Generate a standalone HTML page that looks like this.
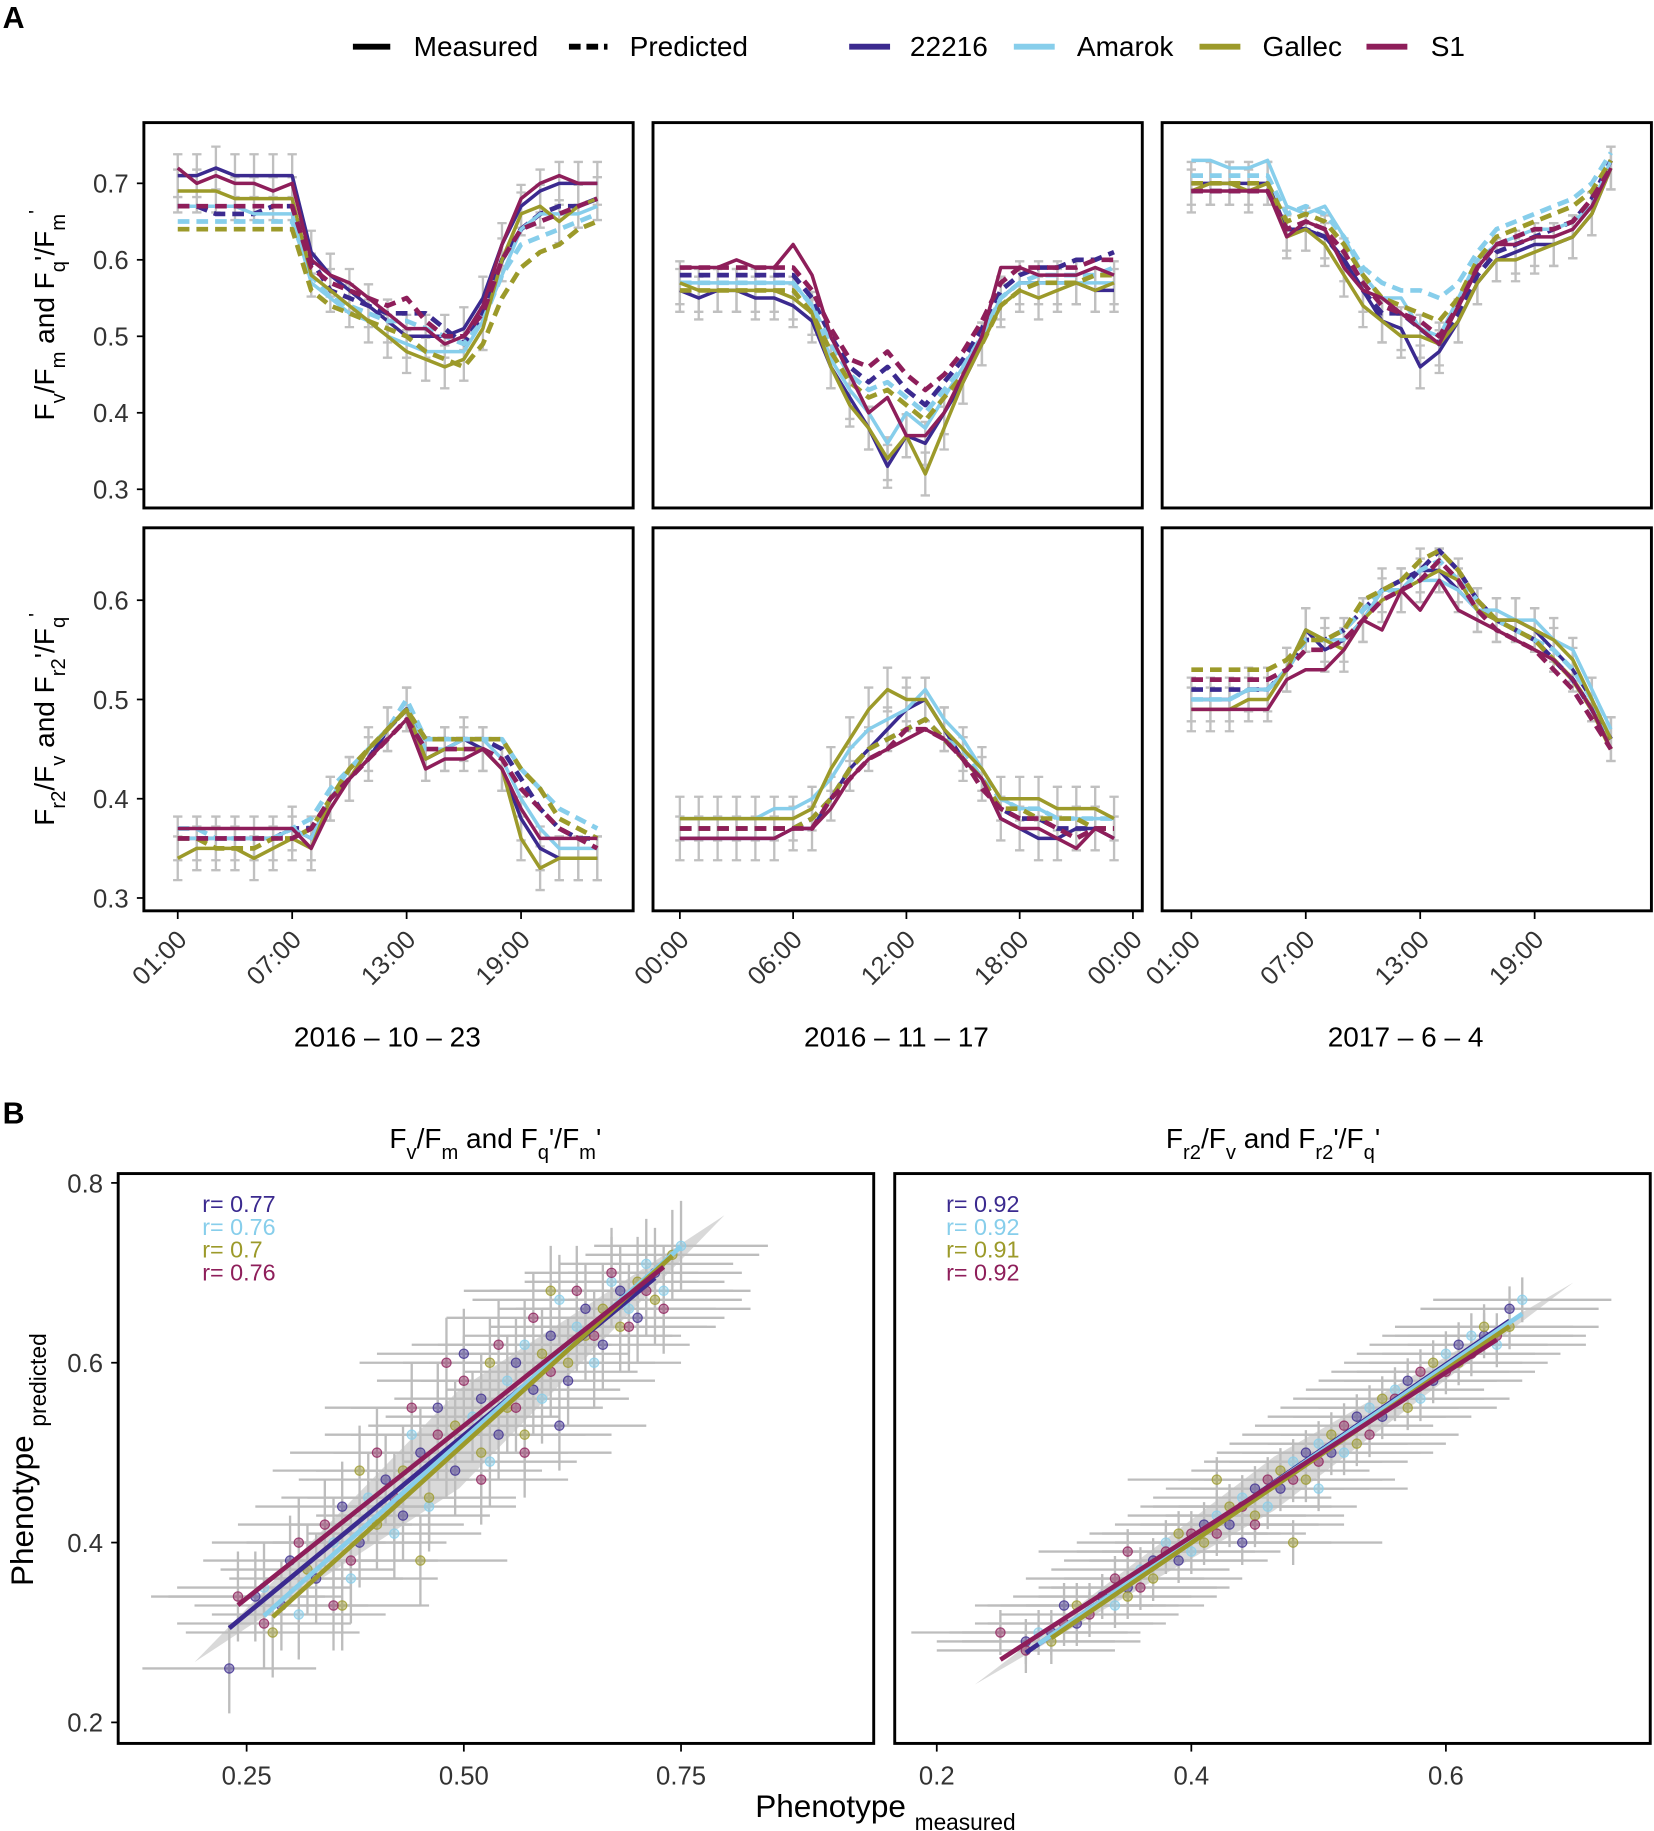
<!DOCTYPE html>
<html><head><meta charset="utf-8">
<style>
html,body{margin:0;padding:0;background:#fff;}
svg{display:block;font-family:"Liberation Sans",sans-serif;}
</style></head>
<body>
<svg id="fig" width="1654" height="1831" viewBox="0 0 1416 1568" xmlns="http://www.w3.org/2000/svg">
<rect x="0" y="0" width="1416" height="1568" fill="#fff"/>
<text x="2" y="24" font-size="26" font-weight="bold">A</text>
<text x="2" y="962" font-size="26" font-weight="bold">B</text>
<g font-size="24">
 <g><line x1="302" y1="40" x2="334" y2="40" stroke="#000" stroke-width="5"/><text x="354" y="48">Measured</text></g>
 <g><line x1="487" y1="40" x2="520" y2="40" stroke="#000" stroke-width="5" stroke-dasharray="10,5"/><text x="539" y="48">Predicted</text></g>
 <g><line x1="727" y1="40" x2="762" y2="40" stroke="#3b2a8f" stroke-width="5"/><text x="779" y="48">22216</text></g>
 <g><line x1="868" y1="40" x2="903" y2="40" stroke="#87ceeb" stroke-width="5"/><text x="922" y="48">Amarok</text></g>
 <g><line x1="1027" y1="40" x2="1062" y2="40" stroke="#9c9a2a" stroke-width="5"/><text x="1081" y="48">Gallec</text></g>
 <g><line x1="1170" y1="40" x2="1205" y2="40" stroke="#8e1e5a" stroke-width="5"/><text x="1225" y="48">S1</text></g>
</g>
<g id="plots"></g>
</svg>
<script>
// ---------- Panel A data ----------
const genotypes = ["22216","Amarok","Gallec","S1"];
const colors = ["#3b2a8f","#87ceeb","#9c9a2a","#8e1e5a"];
const hoursA1 = [1,2,3,4,5,6,7,8,9,10,11,12,13,14,15,16,17,18,19,20,21,22,23];
const hoursA2 = [0,1,2,3,4,5,6,7,8,9,10,11,12,13,14,15,16,17,18,19,20,21,22,23];
const hoursA3 = [1,2,3,4,5,6,7,8,9,10,11,12,13,14,15,16,17,18,19,20,21,22,23];
const ticksTop = [0.3,0.4,0.5,0.6,0.7];
const ticksBot = [0.3,0.4,0.5,0.6];
const xTicks1 = [1,7,13,19]; const xLab1 = ["01:00","07:00","13:00","19:00"];
const xTicks2 = [0,6,12,18,24]; const xLab2 = ["00:00","06:00","12:00","18:00","00:00"];
const xTicks3 = [1,7,13,19]; const xLab3 = ["01:00","07:00","13:00","19:00"];
const dates = ["2016 – 10 – 23","2016 – 11 – 17","2017 – 6 – 4"];

const t1Meas = [
[0.71,0.71,0.72,0.71,0.71,0.71,0.71,0.61,0.58,0.56,0.54,0.52,0.50,0.50,0.50,0.51,0.55,0.62,0.67,0.69,0.70,0.70,0.70],
[0.67,0.67,0.67,0.67,0.66,0.66,0.66,0.57,0.55,0.53,0.52,0.50,0.49,0.48,0.48,0.48,0.52,0.58,0.64,0.66,0.66,0.66,0.67],
[0.69,0.69,0.69,0.68,0.68,0.68,0.68,0.58,0.56,0.54,0.52,0.50,0.48,0.47,0.46,0.47,0.51,0.60,0.66,0.67,0.65,0.67,0.68],
[0.72,0.70,0.71,0.70,0.70,0.69,0.70,0.60,0.58,0.57,0.55,0.53,0.51,0.51,0.49,0.50,0.54,0.62,0.68,0.70,0.71,0.70,0.70]];
const t1Pred = [
[0.67,0.67,0.66,0.66,0.66,0.67,0.67,0.60,0.56,0.55,0.54,0.53,0.53,0.53,0.51,0.49,0.53,0.60,0.64,0.66,0.67,0.67,0.68],
[0.65,0.65,0.65,0.65,0.65,0.65,0.65,0.58,0.55,0.54,0.53,0.52,0.52,0.51,0.50,0.49,0.52,0.58,0.62,0.63,0.64,0.65,0.66],
[0.64,0.64,0.64,0.64,0.64,0.64,0.64,0.56,0.54,0.53,0.52,0.51,0.50,0.48,0.47,0.46,0.49,0.55,0.59,0.61,0.62,0.64,0.65],
[0.67,0.67,0.67,0.67,0.67,0.67,0.67,0.59,0.57,0.56,0.55,0.54,0.55,0.52,0.50,0.50,0.53,0.60,0.64,0.65,0.66,0.67,0.68]];
const t2Meas = [
[0.56,0.55,0.56,0.56,0.55,0.55,0.54,0.52,0.46,0.42,0.38,0.33,0.37,0.36,0.40,0.44,0.49,0.55,0.57,0.57,0.57,0.57,0.56,0.56],
[0.57,0.57,0.57,0.57,0.57,0.57,0.57,0.54,0.47,0.43,0.40,0.36,0.40,0.38,0.42,0.46,0.50,0.55,0.57,0.57,0.57,0.57,0.57,0.57],
[0.57,0.56,0.56,0.56,0.56,0.56,0.55,0.53,0.46,0.41,0.38,0.34,0.37,0.32,0.38,0.44,0.49,0.54,0.56,0.55,0.56,0.57,0.56,0.57],
[0.59,0.59,0.59,0.60,0.59,0.59,0.62,0.58,0.50,0.45,0.40,0.42,0.37,0.37,0.40,0.45,0.50,0.59,0.59,0.58,0.58,0.58,0.59,0.58]];
const t2Pred = [
[0.58,0.58,0.58,0.58,0.58,0.58,0.58,0.55,0.50,0.46,0.44,0.46,0.43,0.41,0.44,0.47,0.51,0.56,0.58,0.59,0.59,0.60,0.60,0.61],
[0.57,0.57,0.57,0.57,0.57,0.57,0.57,0.54,0.49,0.45,0.43,0.44,0.42,0.40,0.43,0.46,0.50,0.55,0.57,0.58,0.58,0.58,0.58,0.59],
[0.56,0.56,0.56,0.56,0.56,0.56,0.56,0.53,0.48,0.44,0.42,0.43,0.41,0.39,0.42,0.45,0.49,0.54,0.56,0.57,0.57,0.57,0.58,0.58],
[0.59,0.59,0.59,0.59,0.59,0.59,0.59,0.56,0.51,0.47,0.46,0.48,0.45,0.43,0.45,0.48,0.52,0.57,0.59,0.59,0.59,0.59,0.60,0.60]];
const t3Meas = [
[0.70,0.70,0.70,0.70,0.70,0.64,0.64,0.63,0.60,0.56,0.52,0.51,0.46,0.48,0.52,0.57,0.60,0.61,0.62,0.62,0.63,0.66,0.72],
[0.73,0.73,0.72,0.72,0.73,0.67,0.66,0.67,0.63,0.58,0.55,0.55,0.51,0.50,0.55,0.60,0.62,0.63,0.64,0.64,0.65,0.67,0.73],
[0.69,0.70,0.70,0.69,0.70,0.63,0.64,0.62,0.58,0.54,0.52,0.50,0.50,0.49,0.52,0.57,0.60,0.60,0.61,0.62,0.63,0.66,0.72],
[0.69,0.69,0.69,0.69,0.69,0.63,0.65,0.64,0.59,0.56,0.55,0.53,0.51,0.49,0.54,0.59,0.62,0.62,0.63,0.63,0.64,0.67,0.72]];
const t3Pred = [
[0.69,0.69,0.69,0.69,0.69,0.64,0.64,0.63,0.60,0.56,0.53,0.53,0.51,0.49,0.53,0.58,0.61,0.62,0.63,0.64,0.65,0.68,0.73],
[0.71,0.71,0.71,0.71,0.71,0.66,0.67,0.66,0.63,0.59,0.57,0.56,0.56,0.55,0.57,0.61,0.64,0.65,0.66,0.67,0.68,0.70,0.74],
[0.70,0.70,0.70,0.70,0.70,0.65,0.66,0.65,0.62,0.58,0.55,0.54,0.53,0.52,0.55,0.60,0.63,0.64,0.65,0.66,0.67,0.69,0.73],
[0.69,0.69,0.69,0.69,0.69,0.64,0.65,0.64,0.61,0.57,0.54,0.53,0.52,0.50,0.54,0.59,0.62,0.63,0.64,0.64,0.65,0.68,0.72]];
const b1Meas = [
[0.36,0.36,0.36,0.36,0.36,0.36,0.37,0.36,0.40,0.42,0.44,0.47,0.49,0.44,0.45,0.46,0.45,0.43,0.38,0.35,0.34,0.34,0.34],
[0.36,0.36,0.36,0.36,0.36,0.36,0.37,0.36,0.40,0.43,0.45,0.47,0.49,0.45,0.45,0.46,0.46,0.44,0.40,0.37,0.35,0.35,0.35],
[0.34,0.35,0.35,0.35,0.34,0.35,0.36,0.35,0.40,0.42,0.45,0.47,0.49,0.44,0.45,0.45,0.45,0.43,0.36,0.33,0.34,0.34,0.34],
[0.37,0.37,0.37,0.37,0.37,0.37,0.37,0.35,0.39,0.42,0.44,0.46,0.48,0.43,0.44,0.44,0.45,0.43,0.39,0.36,0.36,0.36,0.36]];
const b1Pred = [
[0.36,0.36,0.36,0.36,0.36,0.36,0.37,0.37,0.40,0.42,0.44,0.47,0.49,0.46,0.46,0.46,0.46,0.45,0.42,0.39,0.37,0.36,0.36],
[0.37,0.37,0.36,0.36,0.36,0.36,0.37,0.38,0.41,0.43,0.45,0.47,0.50,0.46,0.46,0.46,0.46,0.46,0.43,0.41,0.39,0.38,0.37],
[0.36,0.36,0.35,0.35,0.35,0.36,0.36,0.37,0.40,0.43,0.45,0.47,0.49,0.46,0.46,0.46,0.46,0.46,0.43,0.41,0.38,0.37,0.36],
[0.36,0.36,0.36,0.36,0.36,0.36,0.36,0.37,0.40,0.42,0.44,0.46,0.48,0.45,0.45,0.45,0.45,0.44,0.41,0.39,0.37,0.36,0.35]];
const b2Meas = [
[0.36,0.36,0.36,0.36,0.36,0.36,0.37,0.37,0.40,0.43,0.45,0.47,0.49,0.50,0.47,0.44,0.42,0.38,0.37,0.36,0.36,0.37,0.37,0.36],
[0.38,0.38,0.38,0.38,0.38,0.39,0.39,0.40,0.42,0.45,0.47,0.48,0.49,0.51,0.48,0.46,0.43,0.40,0.39,0.39,0.38,0.38,0.38,0.38],
[0.38,0.38,0.38,0.38,0.38,0.38,0.38,0.39,0.43,0.46,0.49,0.51,0.50,0.50,0.47,0.45,0.43,0.40,0.40,0.40,0.39,0.39,0.39,0.38],
[0.36,0.36,0.36,0.36,0.36,0.36,0.37,0.37,0.39,0.42,0.44,0.45,0.46,0.47,0.46,0.44,0.42,0.38,0.37,0.37,0.36,0.35,0.37,0.36]];
const b2Pred = [
[0.37,0.37,0.37,0.37,0.37,0.37,0.37,0.38,0.40,0.43,0.45,0.46,0.47,0.48,0.46,0.44,0.42,0.39,0.38,0.38,0.37,0.37,0.37,0.37],
[0.37,0.37,0.37,0.37,0.37,0.37,0.37,0.38,0.40,0.43,0.45,0.46,0.47,0.48,0.46,0.45,0.42,0.40,0.39,0.39,0.38,0.38,0.38,0.38],
[0.37,0.37,0.37,0.37,0.37,0.37,0.37,0.38,0.40,0.43,0.45,0.46,0.47,0.48,0.46,0.44,0.42,0.39,0.39,0.38,0.38,0.38,0.37,0.37],
[0.37,0.37,0.37,0.37,0.37,0.37,0.37,0.37,0.40,0.42,0.44,0.45,0.47,0.47,0.46,0.44,0.41,0.39,0.38,0.38,0.37,0.36,0.37,0.37]];
const b3Meas = [
[0.50,0.50,0.50,0.51,0.51,0.53,0.57,0.55,0.56,0.58,0.61,0.61,0.63,0.63,0.61,0.59,0.58,0.58,0.57,0.55,0.53,0.50,0.46],
[0.50,0.50,0.50,0.51,0.51,0.53,0.57,0.56,0.56,0.58,0.61,0.61,0.62,0.62,0.61,0.59,0.59,0.58,0.58,0.56,0.55,0.51,0.47],
[0.49,0.49,0.49,0.50,0.50,0.53,0.57,0.56,0.55,0.58,0.60,0.61,0.62,0.63,0.62,0.59,0.58,0.58,0.57,0.56,0.54,0.50,0.46],
[0.49,0.49,0.49,0.49,0.49,0.52,0.53,0.53,0.55,0.58,0.57,0.61,0.59,0.62,0.59,0.58,0.57,0.56,0.55,0.54,0.52,0.49,0.45]];
const b3Pred = [
[0.51,0.51,0.51,0.51,0.51,0.53,0.56,0.56,0.57,0.59,0.61,0.62,0.63,0.65,0.63,0.60,0.58,0.57,0.56,0.54,0.52,0.49,0.46],
[0.50,0.50,0.50,0.51,0.51,0.53,0.56,0.56,0.57,0.59,0.61,0.61,0.63,0.64,0.62,0.60,0.58,0.57,0.56,0.55,0.53,0.50,0.46],
[0.53,0.53,0.53,0.53,0.53,0.54,0.56,0.56,0.57,0.60,0.61,0.62,0.64,0.65,0.63,0.60,0.58,0.57,0.56,0.54,0.52,0.49,0.45],
[0.52,0.52,0.52,0.52,0.52,0.53,0.55,0.55,0.56,0.58,0.60,0.61,0.62,0.64,0.62,0.59,0.57,0.56,0.55,0.53,0.51,0.48,0.45]];

// ---------- Panel B data ----------
const rLeft = ["r= 0.77","r= 0.76","r= 0.7","r= 0.76"];
const rRight = ["r= 0.92","r= 0.92","r= 0.91","r= 0.92"];
const ticksBX1 = [0.25,0.50,0.75]; const ticksBX2 = [0.2,0.4,0.6]; const ticksBY = [0.2,0.4,0.6,0.8];
const sL = [
[[0.23,0.26],[0.26,0.34],[0.30,0.38],[0.33,0.36],[0.36,0.44],[0.38,0.40],[0.41,0.47],[0.43,0.43],[0.45,0.50],[0.47,0.55],[0.49,0.48],[0.52,0.56],[0.54,0.52],[0.56,0.60],[0.58,0.57],[0.60,0.63],[0.62,0.58],[0.64,0.66],[0.66,0.62],[0.68,0.68],[0.70,0.65],[0.72,0.70],[0.29,0.33],[0.50,0.61],[0.61,0.53]],
[[0.27,0.35],[0.31,0.32],[0.35,0.40],[0.39,0.45],[0.42,0.41],[0.44,0.52],[0.48,0.50],[0.51,0.54],[0.53,0.49],[0.55,0.58],[0.57,0.62],[0.59,0.56],[0.63,0.64],[0.65,0.60],[0.67,0.69],[0.69,0.66],[0.71,0.71],[0.73,0.68],[0.75,0.73],[0.46,0.44],[0.37,0.36],[0.61,0.67]],
[[0.28,0.30],[0.32,0.37],[0.36,0.33],[0.40,0.42],[0.43,0.48],[0.46,0.45],[0.49,0.53],[0.52,0.50],[0.55,0.55],[0.57,0.52],[0.59,0.61],[0.62,0.60],[0.64,0.63],[0.66,0.66],[0.68,0.64],[0.70,0.69],[0.72,0.67],[0.74,0.72],[0.60,0.68],[0.53,0.60],[0.45,0.38],[0.38,0.48]],
[[0.24,0.34],[0.27,0.31],[0.31,0.40],[0.34,0.42],[0.37,0.38],[0.40,0.50],[0.42,0.45],[0.44,0.55],[0.47,0.52],[0.50,0.58],[0.52,0.47],[0.54,0.62],[0.56,0.55],[0.58,0.65],[0.60,0.59],[0.63,0.68],[0.65,0.63],[0.67,0.70],[0.69,0.64],[0.71,0.68],[0.73,0.66],[0.48,0.60],[0.57,0.50],[0.35,0.33]]];
const sR = [
[[0.27,0.29],[0.29,0.30],[0.31,0.31],[0.33,0.34],[0.35,0.35],[0.37,0.38],[0.39,0.38],[0.41,0.42],[0.43,0.42],[0.45,0.46],[0.47,0.46],[0.49,0.50],[0.51,0.50],[0.53,0.54],[0.55,0.54],[0.57,0.58],[0.59,0.58],[0.61,0.62],[0.63,0.63],[0.65,0.66],[0.30,0.33],[0.44,0.40]],
[[0.28,0.30],[0.32,0.33],[0.34,0.33],[0.36,0.37],[0.38,0.40],[0.40,0.39],[0.42,0.43],[0.44,0.45],[0.46,0.44],[0.48,0.49],[0.50,0.51],[0.52,0.50],[0.54,0.55],[0.56,0.57],[0.58,0.56],[0.60,0.61],[0.62,0.63],[0.64,0.62],[0.66,0.67],[0.50,0.46]],
[[0.29,0.29],[0.31,0.33],[0.35,0.34],[0.37,0.36],[0.39,0.41],[0.41,0.40],[0.43,0.44],[0.45,0.43],[0.47,0.48],[0.49,0.47],[0.51,0.52],[0.53,0.51],[0.55,0.56],[0.57,0.55],[0.59,0.60],[0.61,0.60],[0.63,0.64],[0.65,0.64],[0.48,0.40],[0.42,0.47]],
[[0.25,0.30],[0.27,0.28],[0.30,0.31],[0.32,0.32],[0.34,0.36],[0.36,0.35],[0.38,0.39],[0.40,0.41],[0.42,0.41],[0.44,0.44],[0.46,0.47],[0.48,0.47],[0.50,0.49],[0.52,0.53],[0.54,0.52],[0.56,0.56],[0.58,0.59],[0.60,0.59],[0.62,0.61],[0.64,0.63],[0.35,0.39],[0.45,0.42]]];

// ---------- drawing ----------
const NS = "http://www.w3.org/2000/svg";
const root = document.getElementById("plots");
function mk(tag, attrs, parent){ const e=document.createElementNS(NS,tag); for(const k in attrs) e.setAttribute(k,attrs[k]); (parent||root).appendChild(e); return e; }
function lin(d0,d1,r0,r1){ return v => r0 + (v-d0)/(d1-d0)*(r1-r0); }

const colX = [[123,542],[559,978],[995,1414]];
const xScales = [lin(1,19,152,446), lin(0,24,582,970), lin(1,19,1020,1314)];
const hoursArr = [hoursA1,hoursA2,hoursA3];
const rowsA = [
 {y0:105,y1:435,ys:lin(0.3,0.7,419,157),ticks:ticksTop,meas:[t1Meas,t2Meas,t3Meas],pred:[t1Pred,t2Pred,t3Pred],err:0.028,name:"fvfm"},
 {y0:452,y1:780,ys:lin(0.3,0.6,769,514),ticks:ticksBot,meas:[b1Meas,b2Meas,b3Meas],pred:[b1Pred,b2Pred,b3Pred],err:0.022,name:"fr2fv"}];
const xTicksArr=[xTicks1,xTicks2,xTicks3], xLabArr=[xLab1,xLab2,xLab3];

rowsA.forEach((row,ri)=>{
 for(let c=0;c<3;c++){
  const g = mk("g",{});
  
  
  const xs = xScales[c], hrs = hoursArr[c];
  mk("clipPath",{id:"cp"+ri+c},g); mk("rect",{x:colX[c][0],y:row.y0,width:colX[c][1]-colX[c][0],height:row.y1-row.y0},g.lastChild);
  const inner = mk("g",{"clip-path":"url(#cp"+ri+c+")"},g);
  [0,2].forEach(gi=>{
   row.meas[c][gi].forEach((v,i)=>{
    const x=xs(hrs[i]);
    const eb = mk("path",{d:`M${x},${row.ys(v-row.err)}V${row.ys(v+row.err)}M${x-4},${row.ys(v-row.err)}h8M${x-4},${row.ys(v+row.err)}h8`,stroke:"#c0c0c0","stroke-width":2,fill:"none"},inner);
    
    
   });
  });
  for(let gi=0;gi<4;gi++){
   [["pred",true],["meas",false]].forEach(([k,dash])=>{
    const arr=row[k][c][gi];
    const d = arr.map((v,i)=>(i?"L":"M")+xs(hrs[i]).toFixed(1)+","+row.ys(v).toFixed(1)).join("");
    const p = mk("path",{d:d,fill:"none",stroke:colors[gi],"stroke-width":dash?4:3,"stroke-dasharray":dash?"10,6":"none","stroke-linejoin":"round"},inner);
    
    
   });
  }
  mk("rect",{x:colX[c][0],y:row.y0,width:colX[c][1]-colX[c][0],height:row.y1-row.y0,fill:"none",stroke:"#000","stroke-width":2.5},g);
  if(c===0){
   row.ticks.forEach(t=>{
    const y=row.ys(t);
    mk("line",{x1:117,x2:123,y1:y,y2:y,stroke:"#000","stroke-width":1.5},g);
    const tx=mk("text",{x:110,y:y+8,"text-anchor":"end","font-size":22,fill:"#333"},g); tx.textContent=t.toFixed(1);
    
    
   });
  }
  if(ri===1){
   xTicksArr[c].forEach((t,i)=>{
    const x=xs(t);
    mk("line",{x1:x,x2:x,y1:780,y2:787,stroke:"#000","stroke-width":1.5},g);
    const tx=mk("text",{x:x+9,y:806,"text-anchor":"end","font-size":22,fill:"#333",transform:`rotate(-45 ${x+9} 806)`},g); tx.textContent=xLabArr[c][i];
    
    
   });
   const dt=mk("text",{x:(colX[c][0]+colX[c][1])/2-1,y:896,"text-anchor":"middle","font-size":24},g); dt.textContent=dates[c];
   
   
  }
 }
});

function richText(parent,x,y,size,parts,rot,anchor){
 const t=mk("text",{x:x,y:y,"font-size":size,"text-anchor":anchor||"middle",transform:rot?`rotate(-90 ${x} ${y})`:""},parent);
 parts.forEach(p=>{ const s=mk("tspan",{},t); if(p[1]==="sub"){s.setAttribute("baseline-shift","sub");s.setAttribute("font-size",size*0.72);} else if(p[1]==="sup"){s.setAttribute("baseline-shift","super");s.setAttribute("font-size",size*0.72);} s.textContent=p[0]; });
 return t;
}
let t;
t=richText(root,46,270,24,[["F"],["v","sub"],["/F"],["m","sub"],[" and F"],["q","sub"],["'/F"],["m","sub"],["'","sup"]],true);


t=richText(root,46,616,24,[["F"],["r2","sub"],["/F"],["v","sub"],[" and F"],["r2","sub"],["'/F"],["q","sub"],["'","sup"]],true);



// ---------- Panel B ----------
const yB = lin(0.2,0.8,1475,1013);
const panelsB = [
 {x0:101,x1:748,xs:lin(0.25,0.75,211,583),data:sL,ex:0.1,ey:0.05,r:rLeft,rx:173,ticks:ticksBX1,tl:["0.25","0.50","0.75"],name:"left",band:0.055,range:[0.19,0.80]},
 {x0:766,x1:1413,xs:lin(0.2,0.6,802,1238),data:sR,ex:0.07,ey:0.025,r:rRight,rx:810,ticks:ticksBX2,tl:["0.2","0.4","0.6"],name:"right",band:0.03,range:[0.23,0.70]}];
panelsB.forEach((P,pi)=>{
 const g=mk("g",{});
 
 
 mk("clipPath",{id:"cb"+pi},g); mk("rect",{x:P.x0,y:1005,width:P.x1-P.x0,height:488},g.lastChild);
 const inner=mk("g",{"clip-path":"url(#cb"+pi+")"},g);
 const all=[].concat(...P.data);
 const mx=all.reduce((a,p)=>a+p[0],0)/all.length, my=all.reduce((a,p)=>a+p[1],0)/all.length;
 const sl=all.reduce((a,p)=>a+(p[0]-mx)*(p[1]-my),0)/all.reduce((a,p)=>a+(p[0]-mx)**2,0);
 const f=x=>my+sl*(x-mx);
 const [a,b]=P.range, m=(a+b)/2;
 const cl=mk("path",{d:`M${P.xs(a)},${yB(f(a))}L${P.xs(m)},${yB(f(m)-P.band)}L${P.xs(b)},${yB(f(b))}L${P.xs(m)},${yB(f(m)+P.band)}Z`,fill:"#cfcfcf",opacity:0.8,"stroke-linejoin":"round"},inner);
 
 
 P.data.forEach(ser=>ser.forEach(p=>{
  const x=P.xs(p[0]), y=yB(p[1]);
  const e=mk("path",{d:`M${P.xs(p[0]-P.ex)},${y}H${P.xs(p[0]+P.ex)}M${x},${yB(p[1]-P.ey)}V${yB(p[1]+P.ey)}`,stroke:"#bdbdbd","stroke-width":2},inner);
  
  
 }));
 P.data.forEach((ser,gi)=>ser.forEach(p=>{
  const c=mk("circle",{cx:P.xs(p[0]),cy:yB(p[1]),r:4,fill:colors[gi],"fill-opacity":0.45,stroke:colors[gi],"stroke-opacity":0.8,"stroke-width":1},inner);
  
  
 }));
 P.data.forEach((ser,gi)=>{
  const mx=ser.reduce((a,p)=>a+p[0],0)/ser.length, my=ser.reduce((a,p)=>a+p[1],0)/ser.length;
  const s=ser.reduce((a,p)=>a+(p[0]-mx)*(p[1]-my),0)/ser.reduce((a,p)=>a+(p[0]-mx)**2,0);
  const xa=Math.min(...ser.map(p=>p[0])), xb=Math.max(...ser.map(p=>p[0]));
  const l=mk("line",{x1:P.xs(xa),y1:yB(my+s*(xa-mx)),x2:P.xs(xb),y2:yB(my+s*(xb-mx)),stroke:colors[gi],"stroke-width":4},inner);
  
  
 });
 mk("rect",{x:P.x0,y:1005,width:P.x1-P.x0,height:488,fill:"none",stroke:"#000","stroke-width":2.5},g);
 P.r.forEach((s,i)=>{const tx=mk("text",{x:P.rx,y:1038+i*19.5,"font-size":20,fill:colors[i]},g); tx.textContent=s;
  
  });
 P.ticks.forEach((tv,i)=>{const x=P.xs(tv); mk("line",{x1:x,x2:x,y1:1493,y2:1500,stroke:"#000","stroke-width":1.5},g);
  const tx=mk("text",{x:x,y:1528,"text-anchor":"middle","font-size":22,fill:"#333"},g); tx.textContent=P.tl[i];
  
  });
 if(pi===0) ticksBY.forEach(tv=>{const y=yB(tv); mk("line",{x1:95,x2:101,y1:y,y2:y,stroke:"#000","stroke-width":1.5},g);
  const tx=mk("text",{x:88,y:y+8,"text-anchor":"end","font-size":22,fill:"#333"},g); tx.textContent=tv.toFixed(1);
  
  });
});
t=richText(root,424,983,24,[["F"],["v","sub"],["/F"],["m","sub"],[" and F"],["q","sub"],["'/F"],["m","sub"],["'"]]);


t=richText(root,1090,983,24,[["F"],["r2","sub"],["/F"],["v","sub"],[" and F"],["r2","sub"],["'/F"],["q","sub"],["'"]]);


t=richText(root,28,1250,27,[["Phenotype "],["predicted","sub"]],true);


t=richText(root,758,1556,27,[["Phenotype "],["measured","sub"]]);


</script>
</body></html>
